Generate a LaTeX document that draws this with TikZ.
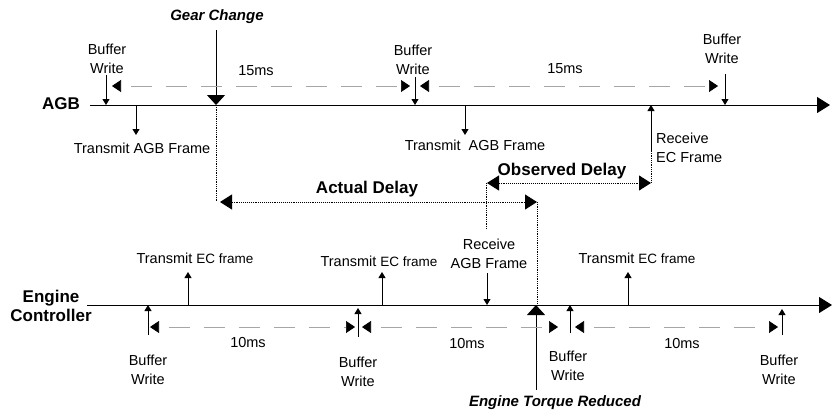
\documentclass[tikz,border=0pt]{standalone}
\usepackage{fontspec}
\setmainfont{Liberation Sans}
\usetikzlibrary{arrows.meta}
\begin{document}
\begin{tikzpicture}[x=1pt,y=-1pt,
  axis/.style={line width=1pt,-{Triangle[length=13pt,width=16pt]}},
  evt/.style={line width=0.9pt},
  bigdown/.style={line width=0.9pt,-{Triangle[length=10pt,width=18pt]}},
  bigup/.style={line width=0.9pt,{Triangle[length=10pt,width=18pt]}-},
  bw/.style={line width=0.9pt,-{Triangle[length=6pt,width=7pt]}},
  span/.style={draw=gray!70,line width=0.7pt,dash pattern=on 21pt off 14pt,dash phase=25pt,
    {Triangle[length=9pt,width=12pt,black]}-{Triangle[length=9pt,width=12pt,black]}},
  delay/.style={line width=0.9pt,densely dotted,
    {Triangle[length=12pt,width=15pt]}-{Triangle[length=12pt,width=15pt]}},
  vdot/.style={line width=0.8pt,densely dotted},
  lbl/.style={font=\fontsize{14.5}{18.5}\selectfont,align=center,inner sep=0pt},
  lbll/.style={font=\fontsize{14.5}{18.5}\selectfont,align=left,inner sep=0pt},
  bold/.style={font=\fontsize{17}{19}\selectfont\bfseries,align=center,inner sep=0pt},
  bi/.style={font=\fontsize{15}{18}\selectfont\bfseries\itshape,inner sep=0pt}
]
\fill[white] (0,0) rectangle (833,415);
\useasboundingbox (0,0) rectangle (833,415);

% axes
\coordinate (agbS) at (90,105); \coordinate (agbE) at (830,105);
\draw[axis] (agbS) -- (agbE);
\coordinate (ecS) at (87,305); \coordinate (ecE) at (832,305);
\draw[axis] (ecS) -- (ecE);
\node[bold] (agbL) at (61,104) {AGB};
\node[bold] (ecL) at (51,306) {Engine\\Controller};

% gear change
\node[bi] (gear) at (217,17) {Gear Change};
\coordinate (gcTop) at (216,30); \coordinate (gcAx) at (216,105); \coordinate (gcBot) at (216,202);
\draw[bigdown] (gcTop) -- (gcAx);
\draw[vdot] (gcAx) -- (gcBot);

% AGB buffer writes
\node[lbl] (bwA1) at (107,59) {Buffer\\Write};
\node[lbl] (bwA2) at (413,60) {Buffer\\Write};
\node[lbl] (bwA3) at (722,49) {Buffer\\Write};
\coordinate (bwA1t) at (106,75); \coordinate (bwA1b) at (106,105);
\coordinate (bwA2t) at (415,77); \coordinate (bwA2b) at (415,105);
\coordinate (bwA3t) at (725,74); \coordinate (bwA3b) at (725,105);
\draw[bw] (bwA1t) -- (bwA1b);
\draw[bw] (bwA2t) -- (bwA2b);
\draw[bw] (bwA3t) -- (bwA3b);

% AGB spans
\coordinate (sA1L) at (112,86); \coordinate (sA1R) at (410,86);
\coordinate (sA2L) at (420,86); \coordinate (sA2R) at (718,86);
\draw[span] (sA1L) -- (sA1R);
\draw[span] (sA2L) -- (sA2R);
\node[lbl] (ms15a) at (256,71) {15ms};
\node[lbl] (ms15b) at (565,69) {15ms};

% transmit AGB frame
\coordinate (tA1t) at (136,105); \coordinate (tA1b) at (136,135);
\coordinate (tA2t) at (465,105); \coordinate (tA2b) at (465,135);
\draw[bw] (tA1t) -- (tA1b);
\draw[bw] (tA2t) -- (tA2b);
\node[lbl] (tA1) at (142,148) {Transmit AGB Frame};
\node[lbl] (tA2) at (475,145) {Transmit\ \ AGB Frame};

% receive EC frame
\node[lbll,anchor=west] (rEC) at (656,148) {Receive\\EC Frame};
\coordinate (rECb) at (651,151); \coordinate (rECt) at (651,105); \coordinate (rECd) at (651,183);
\draw[bw] (rECb) -- (rECt);
\draw[vdot] (rECb) -- (rECd);

% observed delay
\coordinate (odL) at (487,183); \coordinate (odR) at (651,183);
\draw[delay] (odL) -- (odR);
\node[bold] (od) at (562,171) {Observed Delay};
\coordinate (odV) at (486,183); \coordinate (odVb) at (486,229);
\draw[vdot] (odV) -- (odVb);

% actual delay
\coordinate (adL) at (220,202); \coordinate (adR) at (537,202);
\draw[delay] (adL) -- (adR);
\node[bold] (ad) at (367,189) {Actual Delay};
\coordinate (adV) at (537,202); \coordinate (adVb) at (537,305);
\draw[vdot] (adV) -- (adVb);

% engine torque reduced
\coordinate (etA) at (536,305); \coordinate (etB) at (536,390);
\draw[bigup] (etA) -- (etB);
\node[bi] (et) at (555,403) {Engine Torque Reduced};

% receive AGB frame
\node[lbl] (rAGB) at (489,254) {Receive\\AGB Frame};
\coordinate (rAt) at (487,273); \coordinate (rAb) at (487,305);
\draw[bw] (rAt) -- (rAb);

% transmit EC frame
\coordinate (tE1b) at (188,305); \coordinate (tE1t) at (188,272);
\coordinate (tE2b) at (382,305); \coordinate (tE2t) at (382,272);
\coordinate (tE3b) at (628,305); \coordinate (tE3t) at (628,272);
\draw[bw] (tE1b) -- (tE1t);
\draw[bw] (tE2b) -- (tE2t);
\draw[bw] (tE3b) -- (tE3t);
\node[lbl] (tE1) at (195,258) {Transmit {\fontsize{13.5}{18}\selectfont EC frame}};
\node[lbl] (tE2) at (379,261) {Transmit {\fontsize{13.5}{18}\selectfont EC frame}};
\node[lbl] (tE3) at (637,258) {Transmit {\fontsize{13.5}{18}\selectfont EC frame}};

% EC buffer writes
\coordinate (bwE1b) at (148,335); \coordinate (bwE1t) at (148,305);
\coordinate (bwE2b) at (358,337); \coordinate (bwE2t) at (358,308);
\coordinate (bwE3b) at (570,333); \coordinate (bwE3t) at (570,305);
\coordinate (bwE4b) at (782,335); \coordinate (bwE4t) at (782,309);
\draw[bw] (bwE1b) -- (bwE1t);
\draw[bw] (bwE2b) -- (bwE2t);
\draw[bw] (bwE3b) -- (bwE3t);
\draw[bw] (bwE4b) -- (bwE4t);
\node[lbl] (bwE1) at (148,370) {Buffer\\Write};
\node[lbl] (bwE2) at (358,372) {Buffer\\Write};
\node[lbl] (bwE3) at (568,366) {Buffer\\Write};
\node[lbl] (bwE4) at (779,370) {Buffer\\Write};

% EC spans
\coordinate (sE1L) at (150,327); \coordinate (sE1R) at (355,327);
\coordinate (sE2L) at (362,327); \coordinate (sE2R) at (558,327);
\coordinate (sE3L) at (575,327); \coordinate (sE3R) at (778,327);
\draw[span] (sE1L) -- (sE1R);
\draw[span] (sE2L) -- (sE2R);
\draw[span] (sE3L) -- (sE3R);
\node[lbl] (ms10a) at (248,343) {10ms};
\node[lbl] (ms10b) at (467,344) {10ms};
\node[lbl] (ms10c) at (682,344) {10ms};
\end{tikzpicture}
\end{document}
